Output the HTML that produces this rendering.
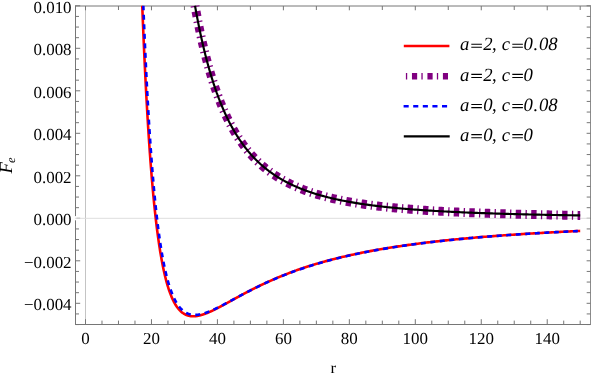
<!DOCTYPE html>
<html><head><meta charset="utf-8"><title>plot</title><style>html,body{margin:0;padding:0;background:#fff;overflow:hidden}body{width:591px;height:374px;position:relative;font-family:"Liberation Serif",serif}</style></head><body>
<svg width="591" height="374" viewBox="0 0 591 374" style="position:absolute;left:0;top:0;will-change:transform">
<rect width="591" height="374" fill="#fff"/>
<line x1="85.5" y1="6.0" x2="85.5" y2="324.5" stroke="#c4c4c4" stroke-width="1"/>
<path d="M75.5,5.5 V325.0 M75.0,324.5 H591.0" fill="none" stroke="#767676" stroke-width="1"/>
<path d="M75.0,6.0 H591.0" fill="none" stroke="#767676" stroke-width="1"/>
<path d="M590.5,5.5 V325.0" fill="none" stroke="#8c8c8c" stroke-width="1"/>
<path d="M85.50,324.5 v-5.3 M85.50,6.0 v4.3 M101.99,324.5 v-3.9 M118.48,324.5 v-3.9 M118.48,6.0 v4.0 M134.97,324.5 v-3.9 M151.46,324.5 v-5.3 M151.46,6.0 v4.3 M167.95,324.5 v-3.9 M184.44,324.5 v-3.9 M184.44,6.0 v4.0 M200.93,324.5 v-3.9 M217.42,324.5 v-5.3 M217.42,6.0 v4.3 M233.91,324.5 v-3.9 M250.40,324.5 v-3.9 M250.40,6.0 v4.0 M266.89,324.5 v-3.9 M283.38,324.5 v-5.3 M283.38,6.0 v4.3 M299.87,324.5 v-3.9 M316.36,324.5 v-3.9 M316.36,6.0 v4.0 M332.85,324.5 v-3.9 M349.34,324.5 v-5.3 M349.34,6.0 v4.3 M365.83,324.5 v-3.9 M382.32,324.5 v-3.9 M382.32,6.0 v4.0 M398.81,324.5 v-3.9 M415.30,324.5 v-5.3 M415.30,6.0 v4.3 M431.79,324.5 v-3.9 M448.28,324.5 v-3.9 M448.28,6.0 v4.0 M464.77,324.5 v-3.9 M481.26,324.5 v-5.3 M481.26,6.0 v4.3 M497.75,324.5 v-3.9 M514.24,324.5 v-3.9 M514.24,6.0 v4.0 M530.73,324.5 v-3.9 M547.22,324.5 v-5.3 M547.22,6.0 v4.3 M563.71,324.5 v-3.9 M580.20,324.5 v-3.9 M580.20,6.0 v4.0 M75.5,324.55 h3.5 M590.5,324.55 h-3.8 M75.5,313.93 h3.5 M590.5,313.93 h-3.8 M75.5,303.30 h4.7 M590.5,303.30 h-3.9 M75.5,292.68 h3.5 M590.5,292.68 h-3.8 M75.5,282.05 h3.5 M590.5,282.05 h-3.8 M75.5,271.43 h3.5 M590.5,271.43 h-3.8 M75.5,260.80 h4.7 M590.5,260.80 h-3.9 M75.5,250.18 h3.5 M590.5,250.18 h-3.8 M75.5,239.55 h3.5 M590.5,239.55 h-3.8 M75.5,228.93 h3.5 M590.5,228.93 h-3.8 M75.5,218.30 h4.7 M590.5,218.30 h-3.9 M75.5,207.68 h3.5 M590.5,207.68 h-3.8 M75.5,197.05 h3.5 M590.5,197.05 h-3.8 M75.5,186.43 h3.5 M590.5,186.43 h-3.8 M75.5,175.80 h4.7 M590.5,175.80 h-3.9 M75.5,165.18 h3.5 M590.5,165.18 h-3.8 M75.5,154.55 h3.5 M590.5,154.55 h-3.8 M75.5,143.93 h3.5 M590.5,143.93 h-3.8 M75.5,133.30 h4.7 M590.5,133.30 h-3.9 M75.5,122.68 h3.5 M590.5,122.68 h-3.8 M75.5,112.05 h3.5 M590.5,112.05 h-3.8 M75.5,101.43 h3.5 M590.5,101.43 h-3.8 M75.5,90.80 h4.7 M590.5,90.80 h-3.9 M75.5,80.18 h3.5 M590.5,80.18 h-3.8 M75.5,69.55 h3.5 M590.5,69.55 h-3.8 M75.5,58.93 h3.5 M590.5,58.93 h-3.8 M75.5,48.30 h4.7 M590.5,48.30 h-3.9 M75.5,37.68 h3.5 M590.5,37.68 h-3.8 M75.5,27.05 h3.5 M590.5,27.05 h-3.8 M75.5,16.43 h3.5 M590.5,16.43 h-3.8 M75.5,5.80 h4.7 M590.5,5.80 h-3.9" stroke="#767676" stroke-width="1" fill="none"/>
<rect x="74.5" y="216.10000000000002" width="2" height="4.2" fill="#fff"/>
<line x1="75.0" y1="218.3" x2="590.0" y2="218.3" stroke="#dedede" stroke-width="1"/>
<clipPath id="c"><rect x="75.5" y="5.2" width="515.0" height="319.3"/></clipPath>
<g clip-path="url(#c)" fill="none">
<path d="M142.25,5.80 L142.53,13.05 L142.81,20.13 L143.10,27.05 L143.38,33.80 L143.66,40.41 L143.94,46.86 L144.23,53.16 L144.51,59.32 L144.79,65.33 L145.07,71.21 L145.36,76.96 L145.64,82.57 L145.92,88.06 L146.20,93.42 L146.49,98.67 L146.77,103.79 L147.05,108.80 L147.33,113.69 L147.62,118.47 L147.90,123.15 L148.18,127.72 L148.46,132.19 L148.75,136.55 L149.03,140.82 L149.31,145.00 L149.59,149.08 L149.88,153.07 L150.16,156.97 L150.44,160.78 L150.72,164.51 L151.01,168.16 L151.29,171.72 L151.57,175.21 L151.85,178.61 L152.14,181.94 L152.42,185.20 L152.70,188.39 L152.98,191.50 L153.27,194.55 L153.55,197.52 L153.83,200.44 L154.11,203.28 L154.40,206.07 L154.68,208.79 L154.96,211.45 L155.24,214.06 L155.53,216.60 L155.81,219.09 L156.09,221.52 L156.37,223.90 L156.65,226.23 L156.94,228.51 L157.22,230.73 L157.50,232.91 L157.78,235.04 L158.07,237.12 L158.35,239.15 L158.63,241.14 L158.91,243.08 L159.20,244.98 L159.48,246.84 L159.76,248.66 L160.04,250.44 L160.33,252.17 L160.61,253.87 L160.89,255.53 L161.17,257.15 L161.46,258.74 L161.74,260.29 L162.02,261.81 L162.30,263.29 L162.59,264.74 L162.87,266.15 L163.15,267.54 L163.43,268.89 L163.72,270.21 L164.00,271.50 L164.28,272.76 L164.56,273.99 L164.85,275.20 L165.13,276.37 L165.41,277.52 L165.69,278.65 L165.98,279.74 L166.26,280.82 L166.54,281.86 L166.82,282.88 L167.11,283.88 L167.39,284.86 L167.67,285.81 L167.95,286.74 L168.24,287.64 L168.52,288.53 L168.80,289.39 L169.08,290.24 L169.37,291.06 L169.65,291.86 L169.93,292.65 L170.21,293.41 L170.49,294.16 L170.78,294.89 L171.06,295.60 L171.34,296.29 L171.62,296.96 L171.91,297.62 L172.19,298.26 L172.47,298.89 L172.75,299.50 L173.04,300.09 L173.32,300.67 L173.60,301.23 L173.88,301.78 L174.17,302.31 L174.45,302.83 L174.73,303.34 L175.01,303.83 L175.30,304.31 L175.58,304.78 L175.86,305.23 L176.14,305.67 L176.43,306.10 L176.71,306.51 L176.99,306.92 L177.27,307.31 L177.56,307.69 L177.84,308.06 L178.12,308.42 L178.40,308.77 L178.69,309.11 L178.97,309.44 L179.25,309.76 L179.53,310.07 L179.82,310.36 L180.10,310.65 L180.38,310.93 L180.66,311.20 L180.95,311.46 L181.23,311.72 L181.51,311.96 L181.79,312.20 L182.08,312.42 L182.36,312.64 L182.64,312.85 L182.92,313.06 L183.20,313.25 L183.49,313.44 L183.77,313.62 L184.05,313.80 L184.33,313.96 L184.62,314.12 L184.90,314.28 L185.18,314.42 L185.46,314.56 L185.75,314.70 L186.03,314.82 L186.31,314.94 L186.59,315.06 L186.88,315.17 L187.16,315.27 L187.44,315.37 L187.72,315.46 L188.01,315.55 L188.29,315.63 L188.57,315.70 L188.85,315.77 L189.14,315.84 L189.42,315.90 L189.70,315.96 L189.98,316.01 L190.27,316.05 L190.55,316.10 L190.83,316.13 L191.11,316.17 L191.40,316.19 L191.68,316.22 L191.96,316.24 L192.24,316.25 L192.53,316.27 L192.81,316.27 L193.09,316.28 L193.37,316.28 L193.66,316.28 L193.94,316.27 L194.22,316.26 L194.50,316.24 L194.79,316.23 L195.07,316.21 L195.35,316.18 L195.63,316.16 L195.92,316.13 L196.20,316.09 L196.48,316.06 L196.76,316.02 L197.04,315.97 L197.33,315.93 L197.61,315.88 L197.89,315.83 L198.17,315.78 L198.46,315.72 L198.74,315.66 L199.02,315.60 L199.30,315.54 L199.59,315.48 L199.87,315.41 L200.15,315.34 L200.43,315.26 L200.72,315.19 L201.00,315.11 L201.28,315.03 L201.56,314.95 L201.85,314.87 L202.13,314.79 L202.41,314.70 L202.69,314.61 L202.98,314.52 L203.26,314.43 L203.54,314.33 L203.82,314.24 L204.11,314.14 L204.39,314.04 L204.67,313.94 L204.95,313.83 L205.24,313.73 L205.52,313.62 L205.80,313.52 L206.08,313.41 L206.37,313.30 L206.65,313.19 L206.93,313.07 L207.21,312.96 L207.50,312.84 L207.78,312.73 L208.06,312.61 L208.34,312.49 L208.63,312.37 L208.91,312.25 L209.19,312.13 L209.47,312.00 L209.76,311.88 L210.04,311.75 L210.32,311.62 L210.60,311.50 L210.88,311.37 L211.17,311.24 L211.45,311.11 L211.73,310.97 L212.01,310.84 L212.30,310.71 L212.58,310.57 L212.86,310.44 L213.14,310.30 L213.43,310.17 L213.71,310.03 L213.99,309.89 L214.27,309.75 L214.56,309.61 L214.84,309.47 L215.12,309.33 L215.40,309.19 L215.69,309.05 L215.97,308.90 L216.25,308.76 L216.53,308.62 L216.82,308.47 L217.10,308.33 L217.38,308.18 L217.66,308.04 L217.95,307.89 L218.23,307.74 L218.51,307.59 L218.79,307.45 L219.08,307.30 L219.36,307.15 L219.64,307.00 L219.92,306.85 L220.21,306.70 L220.49,306.55 L220.77,306.40 L221.05,306.25 L221.34,306.10 L221.62,305.95 L221.90,305.79 L222.18,305.64 L222.47,305.49 L222.75,305.34 L223.03,305.18 L223.31,305.03 L223.60,304.88 L223.88,304.72 L224.16,304.57 L224.44,304.42 L224.72,304.26 L225.01,304.11 L225.29,303.95 L225.57,303.80 L225.85,303.64 L226.14,303.49 L226.42,303.33 L226.70,303.18 L226.98,303.02 L227.27,302.87 L227.55,302.71 L227.83,302.56 L228.11,302.40 L228.40,302.25 L228.68,302.09 L228.96,301.93 L229.24,301.78 L229.53,301.62 L229.81,301.47 L230.09,301.31 L230.37,301.15 L230.66,301.00 L230.94,300.84 L231.22,300.69 L231.50,300.53 L231.79,300.37 L232.07,300.22 L232.35,300.06 L232.63,299.91 L232.92,299.75 L233.20,299.59 L233.48,299.44 L233.76,299.28 L234.05,299.13 L234.33,298.97 L234.61,298.82 L234.89,298.66 L235.18,298.51 L235.46,298.35 L235.74,298.19 L236.02,298.04 L236.31,297.88 L236.59,297.73 L236.87,297.58 L237.15,297.42 L237.44,297.27 L237.72,297.11 L238.00,296.96 L238.28,296.80 L238.56,296.65 L238.85,296.50 L239.13,296.34 L239.41,296.19 L239.69,296.04 L239.98,295.88 L240.26,295.73 L240.54,295.58 L240.82,295.42 L241.11,295.27 L241.39,295.12 L241.67,294.97 L241.95,294.81 L242.24,294.66 L242.52,294.51 L242.80,294.36 L243.08,294.21 L243.37,294.06 L243.65,293.91 L243.93,293.76 L244.21,293.61 L244.50,293.46 L244.78,293.31 L245.06,293.16 L245.34,293.01 L245.63,292.86 L245.91,292.71 L246.19,292.56 L246.47,292.41 L246.76,292.26 L247.04,292.11 L247.32,291.96 L247.60,291.82 L247.89,291.67 L248.17,291.52 L248.45,291.38 L248.73,291.23 L249.02,291.08 L249.30,290.94 L249.58,290.79 L249.86,290.64 L250.15,290.50 L250.43,290.35 L250.71,290.21 L250.99,290.06 L251.28,289.92 L251.56,289.77 L251.84,289.63 L252.12,289.49 L252.40,289.34 L252.69,289.20 L252.97,289.06 L253.25,288.91 L253.53,288.77 L253.82,288.63 L254.10,288.49 L254.38,288.34 L254.66,288.20 L254.95,288.06 L255.23,287.92 L255.51,287.78 L255.79,287.64 L256.08,287.50 L256.36,287.36 L256.64,287.22 L256.92,287.08 L257.21,286.94 L257.49,286.80 L257.77,286.66 L258.05,286.53 L258.34,286.39 L258.62,286.25 L258.90,286.11 L259.18,285.98 L259.47,285.84 L259.75,285.70 L260.03,285.57 L260.31,285.43 L260.60,285.29 L260.88,285.16 L261.16,285.02 L261.44,284.89 L261.73,284.75 L262.01,284.62 L262.29,284.49 L262.57,284.35 L262.86,284.22 L263.14,284.09 L263.42,283.95 L263.70,283.82 L263.99,283.69 L264.27,283.56 L264.55,283.42 L264.83,283.29 L265.12,283.16 L265.40,283.03 L265.68,282.90 L265.96,282.77 L266.24,282.64 L266.53,282.51 L266.81,282.38 L267.09,282.25 L267.37,282.12 L267.66,281.99 L267.94,281.87 L268.22,281.74 L268.50,281.61 L268.79,281.48 L269.07,281.36 L269.35,281.23 L269.63,281.10 L269.92,280.98 L270.20,280.85 L270.48,280.73 L270.76,280.60 L271.05,280.48 L271.33,280.35 L271.61,280.23 L271.89,280.10 L272.18,279.98 L272.46,279.85 L272.74,279.73 L273.02,279.61 L273.31,279.49 L273.59,279.36 L273.87,279.24 L274.15,279.12 L274.44,279.00 L274.72,278.88 L275.00,278.76 L275.28,278.63 L275.57,278.51 L275.85,278.39 L276.13,278.27 L276.41,278.15 L276.70,278.04 L276.98,277.92 L277.26,277.80 L277.54,277.68 L277.83,277.56 L278.11,277.44 L278.39,277.33 L278.67,277.21 L278.95,277.09 L279.24,276.97 L279.52,276.86 L279.80,276.74 L280.08,276.63 L280.37,276.51 L280.65,276.39 L280.93,276.28 L281.21,276.16 L281.50,276.05 L281.78,275.94 L282.06,275.82 L282.34,275.71 L282.63,275.60 L282.91,275.48 L283.19,275.37 L283.88,275.10 L285.36,274.51 L286.85,273.93 L288.34,273.36 L289.82,272.80 L291.31,272.24 L292.79,271.69 L294.28,271.15 L295.77,270.62 L297.25,270.09 L298.74,269.57 L300.23,269.05 L301.71,268.55 L303.20,268.05 L304.69,267.55 L306.17,267.07 L307.66,266.59 L309.15,266.11 L310.63,265.64 L312.12,265.18 L313.61,264.72 L315.09,264.27 L316.58,263.83 L318.07,263.39 L319.55,262.96 L321.04,262.53 L322.53,262.11 L324.01,261.69 L325.50,261.28 L326.99,260.88 L328.47,260.48 L329.96,260.08 L331.45,259.69 L332.93,259.31 L334.42,258.93 L335.91,258.55 L337.39,258.18 L338.88,257.82 L340.37,257.46 L341.85,257.10 L343.34,256.75 L344.83,256.40 L346.31,256.06 L347.80,255.72 L349.28,255.39 L350.77,255.06 L352.26,254.73 L353.74,254.41 L355.23,254.09 L356.72,253.78 L358.20,253.47 L359.69,253.17 L361.18,252.86 L362.66,252.56 L364.15,252.27 L365.64,251.98 L367.12,251.69 L368.61,251.41 L370.10,251.13 L371.58,250.85 L373.07,250.58 L374.56,250.30 L376.04,250.04 L377.53,249.77 L379.02,249.51 L380.50,249.25 L381.99,249.00 L383.48,248.75 L384.96,248.50 L386.45,248.25 L387.94,248.01 L389.42,247.77 L390.91,247.53 L392.40,247.30 L393.88,247.07 L395.37,246.84 L396.86,246.61 L398.34,246.39 L399.83,246.16 L401.32,245.94 L402.80,245.73 L404.29,245.51 L405.77,245.30 L407.26,245.09 L408.75,244.89 L410.23,244.68 L411.72,244.48 L413.21,244.28 L414.69,244.08 L416.18,243.89 L417.67,243.69 L419.15,243.50 L420.64,243.31 L422.13,243.12 L423.61,242.94 L425.10,242.76 L426.59,242.58 L428.07,242.40 L429.56,242.22 L431.05,242.04 L432.53,241.87 L434.02,241.70 L435.51,241.53 L436.99,241.36 L438.48,241.19 L439.97,241.03 L441.45,240.87 L442.94,240.71 L444.43,240.55 L445.91,240.39 L447.40,240.23 L448.89,240.08 L450.37,239.92 L451.86,239.77 L453.35,239.62 L454.83,239.48 L456.32,239.33 L457.81,239.18 L459.29,239.04 L460.78,238.90 L462.26,238.76 L463.75,238.62 L465.24,238.48 L466.72,238.34 L468.21,238.21 L469.70,238.07 L471.18,237.94 L472.67,237.81 L474.16,237.68 L475.64,237.55 L477.13,237.42 L478.62,237.30 L480.10,237.17 L481.59,237.05 L483.08,236.92 L484.56,236.80 L486.05,236.68 L487.54,236.56 L489.02,236.45 L490.51,236.33 L492.00,236.21 L493.48,236.10 L494.97,235.98 L496.46,235.87 L497.94,235.76 L499.43,235.65 L500.92,235.54 L502.40,235.43 L503.89,235.32 L505.38,235.22 L506.86,235.11 L508.35,235.01 L509.84,234.90 L511.32,234.80 L512.81,234.70 L514.30,234.60 L515.78,234.50 L517.27,234.40 L518.75,234.30 L520.24,234.21 L521.73,234.11 L523.21,234.01 L524.70,233.92 L526.19,233.83 L527.67,233.73 L529.16,233.64 L530.65,233.55 L532.13,233.46 L533.62,233.37 L535.11,233.28 L536.59,233.19 L538.08,233.10 L539.57,233.02 L541.05,232.93 L542.54,232.85 L544.03,232.76 L545.51,232.68 L547.00,232.60 L548.49,232.51 L549.97,232.43 L551.46,232.35 L552.95,232.27 L554.43,232.19 L555.92,232.11 L557.41,232.04 L558.89,231.96 L560.38,231.88 L561.87,231.80 L563.35,231.73 L564.84,231.65 L566.33,231.58 L567.81,231.51 L569.30,231.43 L570.79,231.36 L572.27,231.29 L573.76,231.22 L575.24,231.15 L576.73,231.08 L578.22,231.01 L579.70,230.94 L580.20,230.92" stroke="#ff0000" stroke-width="2.6"/>
<path d="M195.01,5.80 L195.19,6.79 L195.36,7.78 L195.54,8.76 L195.72,9.73 L195.89,10.70 L196.07,11.66 L196.25,12.62 L196.42,13.57 L196.60,14.51 L196.78,15.45 L196.95,16.38 L197.13,17.31 L197.31,18.23 L197.49,19.14 L197.66,20.05 L197.84,20.96 L198.02,21.86 L198.19,22.75 L198.37,23.64 L198.55,24.52 L198.72,25.40 L198.90,26.27 L199.08,27.13 L199.25,28.00 L199.43,28.85 L199.61,29.70 L199.78,30.55 L199.96,31.39 L200.14,32.23 L200.31,33.06 L200.49,33.88 L200.67,34.70 L200.85,35.52 L201.02,36.33 L201.20,37.14 L201.38,37.94 L201.55,38.74 L201.73,39.53 L201.91,40.32 L202.08,41.10 L202.26,41.88 L202.44,42.65 L202.61,43.42 L202.79,44.19 L202.97,44.95 L203.14,45.70 L203.32,46.46 L203.50,47.20 L203.68,47.95 L203.85,48.68 L204.03,49.42 L204.21,50.15 L204.38,50.87 L204.56,51.60 L204.74,52.31 L204.91,53.03 L205.09,53.74 L205.27,54.44 L205.44,55.14 L205.62,55.84 L205.80,56.53 L205.97,57.22 L206.15,57.91 L206.33,58.59 L206.50,59.27 L206.68,59.94 L206.86,60.61 L207.04,61.28 L207.21,61.94 L207.39,62.60 L207.57,63.25 L207.74,63.91 L207.92,64.55 L208.10,65.20 L208.27,65.84 L208.45,66.47 L208.63,67.11 L208.80,67.74 L208.98,68.36 L209.16,68.99 L209.33,69.61 L209.51,70.22 L209.69,70.84 L209.87,71.44 L210.04,72.05 L210.22,72.65 L210.40,73.25 L210.57,73.85 L210.75,74.44 L210.93,75.03 L211.10,75.62 L211.28,76.20 L211.46,76.78 L211.63,77.36 L211.81,77.93 L211.99,78.50 L212.16,79.07 L212.34,79.63 L212.52,80.19 L212.70,80.75 L212.87,81.31 L213.05,81.86 L213.23,82.41 L213.40,82.95 L213.58,83.50 L213.76,84.04 L213.93,84.57 L214.11,85.11 L214.29,85.64 L214.46,86.17 L214.64,86.70 L214.82,87.22 L214.99,87.74 L215.17,88.26 L215.35,88.77 L215.52,89.28 L215.70,89.79 L215.88,90.30 L216.06,90.81 L216.23,91.31 L216.41,91.81 L216.59,92.30 L216.76,92.80 L216.94,93.29 L217.12,93.78 L217.29,94.26 L217.47,94.75 L217.65,95.23 L217.82,95.71 L218.00,96.18 L218.18,96.65 L218.35,97.13 L218.53,97.59 L218.71,98.06 L218.89,98.52 L219.06,98.99 L219.24,99.44 L219.42,99.90 L219.59,100.36 L219.77,100.81 L219.95,101.26 L220.12,101.71 L220.30,102.15 L220.48,102.59 L220.65,103.03 L220.83,103.47 L221.01,103.91 L221.18,104.34 L221.36,104.77 L221.54,105.20 L221.71,105.63 L221.89,106.06 L222.07,106.48 L222.25,106.90 L222.42,107.32 L222.60,107.74 L222.78,108.15 L222.95,108.56 L223.13,108.97 L223.31,109.38 L223.48,109.79 L223.66,110.19 L223.84,110.60 L224.01,111.00 L224.19,111.39 L224.37,111.79 L224.54,112.18 L224.72,112.58 L224.90,112.97 L225.08,113.36 L225.25,113.74 L225.43,114.13 L225.61,114.51 L225.78,114.89 L225.96,115.27 L226.14,115.65 L226.31,116.02 L226.49,116.40 L226.67,116.77 L226.84,117.14 L227.02,117.51 L227.20,117.87 L227.37,118.24 L227.55,118.60 L227.73,118.96 L227.90,119.32 L228.08,119.68 L228.26,120.04 L228.44,120.39 L228.61,120.74 L228.79,121.09 L228.97,121.44 L229.14,121.79 L229.32,122.13 L229.50,122.48 L229.67,122.82 L229.85,123.16 L230.03,123.50 L230.20,123.84 L230.38,124.17 L230.56,124.51 L230.73,124.84 L230.91,125.17 L231.09,125.50 L231.27,125.83 L231.44,126.16 L231.62,126.48 L231.80,126.81 L231.97,127.13 L232.15,127.45 L232.33,127.77 L232.50,128.08 L232.68,128.40 L232.86,128.71 L233.03,129.03 L233.21,129.34 L233.39,129.65 L233.56,129.96 L233.74,130.26 L233.92,130.57 L234.10,130.87 L234.27,131.18 L234.45,131.48 L234.63,131.78 L234.80,132.08 L234.98,132.37 L235.16,132.67 L235.33,132.97 L235.51,133.26 L235.69,133.55 L235.86,133.84 L236.04,134.13 L236.22,134.42 L236.39,134.70 L236.57,134.99 L236.75,135.27 L236.92,135.56 L237.10,135.84 L237.28,136.12 L237.46,136.40 L237.63,136.67 L237.81,136.95 L237.99,137.23 L238.16,137.50 L238.34,137.77 L238.52,138.04 L238.69,138.31 L238.87,138.58 L239.05,138.85 L239.22,139.12 L239.40,139.38 L239.58,139.65 L239.75,139.91 L239.93,140.17 L240.11,140.43 L240.29,140.69 L240.46,140.95 L240.64,141.21 L240.82,141.46 L240.99,141.72 L241.17,141.97 L241.35,142.22 L241.52,142.47 L241.70,142.72 L241.88,142.97 L242.05,143.22 L242.23,143.47 L242.41,143.72 L242.58,143.96 L242.76,144.20 L242.94,144.45 L243.11,144.69 L243.29,144.93 L243.47,145.17 L243.65,145.41 L243.82,145.64 L244.00,145.88 L244.18,146.12 L244.35,146.35 L244.53,146.58 L244.71,146.82 L244.88,147.05 L245.06,147.28 L245.24,147.51 L245.41,147.74 L245.59,147.96 L245.77,148.19 L245.94,148.41 L246.12,148.64 L246.30,148.86 L246.48,149.08 L246.65,149.31 L246.83,149.53 L247.01,149.75 L247.18,149.96 L247.36,150.18 L247.54,150.40 L247.71,150.62 L247.89,150.83 L248.07,151.04 L248.24,151.26 L248.42,151.47 L248.60,151.68 L248.77,151.89 L248.95,152.10 L249.13,152.31 L249.31,152.52 L249.48,152.72 L249.66,152.93 L249.84,153.14 L250.01,153.34 L250.19,153.54 L250.37,153.75 L250.54,153.95 L250.72,154.15 L250.90,154.35 L251.07,154.55 L251.25,154.75 L251.43,154.94 L251.60,155.14 L251.78,155.34 L251.96,155.53 L252.13,155.73 L252.31,155.92 L252.49,156.11 L252.67,156.30 L252.84,156.50 L253.02,156.69 L253.20,156.88 L253.37,157.06 L253.55,157.25 L253.73,157.44 L253.90,157.63 L254.08,157.81 L254.26,158.00 L254.43,158.18 L254.61,158.36 L254.79,158.55 L254.96,158.73 L255.14,158.91 L255.32,159.09 L255.50,159.27 L255.67,159.45 L255.85,159.63 L256.03,159.80 L256.20,159.98 L256.38,160.16 L256.56,160.33 L256.73,160.51 L256.91,160.68 L257.09,160.85 L257.26,161.03 L257.44,161.20 L257.62,161.37 L257.79,161.54 L257.97,161.71 L258.15,161.88 L258.32,162.05 L258.50,162.22 L258.68,162.38 L258.86,162.55 L259.03,162.71 L259.21,162.88 L259.39,163.04 L259.56,163.21 L259.74,163.37 L259.92,163.53 L260.09,163.70 L260.27,163.86 L260.45,164.02 L260.62,164.18 L260.80,164.34 L260.98,164.49 L261.15,164.65 L261.33,164.81 L261.51,164.97 L261.69,165.12 L261.86,165.28 L262.04,165.43 L262.22,165.59 L262.39,165.74 L262.57,165.89 L262.75,166.05 L262.92,166.20 L263.10,166.35 L263.28,166.50 L263.45,166.65 L263.63,166.80 L263.81,166.95 L263.98,167.10 L264.16,167.25 L264.34,167.39 L264.51,167.54 L264.69,167.69 L264.87,167.83 L265.05,167.98 L265.22,168.12 L265.40,168.27 L265.58,168.41 L265.75,168.55 L265.93,168.69 L266.11,168.84 L266.28,168.98 L266.46,169.12 L266.64,169.26 L266.81,169.40 L266.99,169.54 L267.17,169.67 L267.34,169.81 L267.52,169.95 L267.70,170.09 L267.88,170.22 L268.05,170.36 L268.23,170.49 L268.41,170.63 L268.58,170.76 L268.76,170.90 L268.94,171.03 L269.11,171.16 L269.29,171.29 L269.47,171.43 L269.64,171.56 L269.82,171.69 L270.00,171.82 L270.17,171.95 L270.35,172.08 L270.53,172.21 L270.71,172.34 L270.88,172.46 L271.06,172.59 L271.24,172.72 L271.41,172.84 L271.59,172.97 L271.77,173.10 L271.94,173.22 L272.12,173.35 L272.30,173.47 L272.47,173.59 L272.65,173.72 L272.83,173.84 L273.00,173.96 L273.18,174.08 L273.36,174.20 L273.53,174.33 L273.71,174.45 L273.89,174.57 L274.07,174.69 L274.24,174.80 L274.42,174.92 L274.60,175.04 L274.77,175.16 L274.95,175.28 L275.13,175.39 L275.30,175.51 L275.48,175.63 L275.66,175.74 L275.83,175.86 L276.01,175.97 L276.19,176.09 L276.36,176.20 L276.54,176.31 L276.72,176.43 L276.90,176.54 L277.07,176.65 L277.25,176.76 L277.43,176.88 L277.60,176.99 L277.78,177.10 L277.96,177.21 L278.13,177.32 L278.31,177.43 L278.49,177.54 L278.66,177.65 L278.84,177.75 L279.02,177.86 L279.19,177.97 L279.37,178.08 L279.55,178.18 L279.72,178.29 L279.90,178.40 L280.08,178.50 L280.26,178.61 L280.43,178.71 L280.61,178.82 L280.79,178.92 L280.96,179.03 L281.14,179.13 L281.32,179.23 L281.49,179.34 L281.67,179.44 L281.85,179.54 L282.02,179.64 L282.20,179.74 L282.38,179.84 L282.55,179.94 L282.73,180.04 L282.91,180.14 L283.09,180.24 L283.26,180.34 L283.88,180.68 L285.36,181.49 L286.85,182.28 L288.34,183.05 L289.82,183.79 L291.31,184.51 L292.79,185.21 L294.28,185.89 L295.77,186.56 L297.25,187.20 L298.74,187.83 L300.23,188.44 L301.71,189.03 L303.20,189.61 L304.69,190.17 L306.17,190.72 L307.66,191.25 L309.15,191.77 L310.63,192.28 L312.12,192.77 L313.61,193.25 L315.09,193.72 L316.58,194.18 L318.07,194.62 L319.55,195.06 L321.04,195.48 L322.53,195.89 L324.01,196.30 L325.50,196.69 L326.99,197.07 L328.47,197.45 L329.96,197.81 L331.45,198.17 L332.93,198.52 L334.42,198.86 L335.91,199.19 L337.39,199.52 L338.88,199.83 L340.37,200.14 L341.85,200.45 L343.34,200.74 L344.83,201.03 L346.31,201.31 L347.80,201.59 L349.28,201.86 L350.77,202.12 L352.26,202.38 L353.74,202.64 L355.23,202.88 L356.72,203.13 L358.20,203.36 L359.69,203.60 L361.18,203.82 L362.66,204.04 L364.15,204.26 L365.64,204.48 L367.12,204.68 L368.61,204.89 L370.10,205.09 L371.58,205.28 L373.07,205.48 L374.56,205.66 L376.04,205.85 L377.53,206.03 L379.02,206.21 L380.50,206.38 L381.99,206.55 L383.48,206.72 L384.96,206.88 L386.45,207.04 L387.94,207.20 L389.42,207.35 L390.91,207.50 L392.40,207.65 L393.88,207.80 L395.37,207.94 L396.86,208.08 L398.34,208.22 L399.83,208.35 L401.32,208.49 L402.80,208.62 L404.29,208.74 L405.77,208.87 L407.26,208.99 L408.75,209.11 L410.23,209.23 L411.72,209.35 L413.21,209.46 L414.69,209.57 L416.18,209.68 L417.67,209.79 L419.15,209.90 L420.64,210.00 L422.13,210.11 L423.61,210.21 L425.10,210.31 L426.59,210.40 L428.07,210.50 L429.56,210.60 L431.05,210.69 L432.53,210.78 L434.02,210.87 L435.51,210.96 L436.99,211.04 L438.48,211.13 L439.97,211.21 L441.45,211.29 L442.94,211.38 L444.43,211.46 L445.91,211.53 L447.40,211.61 L448.89,211.69 L450.37,211.76 L451.86,211.83 L453.35,211.91 L454.83,211.98 L456.32,212.05 L457.81,212.12 L459.29,212.18 L460.78,212.25 L462.26,212.32 L463.75,212.38 L465.24,212.45 L466.72,212.51 L468.21,212.57 L469.70,212.63 L471.18,212.69 L472.67,212.75 L474.16,212.81 L475.64,212.87 L477.13,212.92 L478.62,212.98 L480.10,213.03 L481.59,213.09 L483.08,213.14 L484.56,213.19 L486.05,213.24 L487.54,213.29 L489.02,213.34 L490.51,213.39 L492.00,213.44 L493.48,213.49 L494.97,213.54 L496.46,213.58 L497.94,213.63 L499.43,213.67 L500.92,213.72 L502.40,213.76 L503.89,213.81 L505.38,213.85 L506.86,213.89 L508.35,213.93 L509.84,213.97 L511.32,214.01 L512.81,214.05 L514.30,214.09 L515.78,214.13 L517.27,214.17 L518.75,214.21 L520.24,214.25 L521.73,214.28 L523.21,214.32 L524.70,214.35 L526.19,214.39 L527.67,214.42 L529.16,214.46 L530.65,214.49 L532.13,214.53 L533.62,214.56 L535.11,214.59 L536.59,214.62 L538.08,214.65 L539.57,214.69 L541.05,214.72 L542.54,214.75 L544.03,214.78 L545.51,214.81 L547.00,214.84 L548.49,214.87 L549.97,214.89 L551.46,214.92 L552.95,214.95 L554.43,214.98 L555.92,215.01 L557.41,215.03 L558.89,215.06 L560.38,215.08 L561.87,215.11 L563.35,215.14 L564.84,215.16 L566.33,215.19 L567.81,215.21 L569.30,215.24 L570.79,215.26 L572.27,215.28 L573.76,215.31 L575.24,215.33 L576.73,215.35 L578.22,215.38 L579.70,215.40 L580.20,215.40" stroke="#800080" stroke-width="9" stroke-dasharray="1.3 4.389 5.4 4.389"/>
<path d="M143.34,5.80 L143.62,12.93 L143.90,19.90 L144.18,26.70 L144.46,33.36 L144.74,39.86 L145.02,46.21 L145.30,52.42 L145.58,58.48 L145.86,64.41 L146.14,70.21 L146.42,75.87 L146.70,81.41 L146.98,86.82 L147.26,92.11 L147.54,97.28 L147.82,102.34 L148.10,107.28 L148.38,112.11 L148.66,116.84 L148.94,121.46 L149.22,125.97 L149.50,130.39 L149.79,134.71 L150.07,138.93 L150.35,143.06 L150.63,147.09 L150.91,151.04 L151.19,154.90 L151.47,158.68 L151.75,162.37 L152.03,165.98 L152.31,169.51 L152.59,172.96 L152.87,176.34 L153.15,179.65 L153.43,182.88 L153.71,186.04 L153.99,189.13 L154.27,192.15 L154.55,195.11 L154.83,198.00 L155.11,200.83 L155.39,203.59 L155.67,206.30 L155.95,208.95 L156.23,211.54 L156.51,214.07 L156.79,216.55 L157.07,218.97 L157.35,221.34 L157.63,223.66 L157.91,225.92 L158.19,228.14 L158.47,230.31 L158.75,232.43 L159.03,234.51 L159.31,236.54 L159.59,238.52 L159.87,240.46 L160.16,242.36 L160.44,244.22 L160.72,246.03 L161.00,247.81 L161.28,249.55 L161.56,251.25 L161.84,252.91 L162.12,254.53 L162.40,256.12 L162.68,257.67 L162.96,259.19 L163.24,260.68 L163.52,262.13 L163.80,263.55 L164.08,264.94 L164.36,266.29 L164.64,267.62 L164.92,268.92 L165.20,270.19 L165.48,271.43 L165.76,272.64 L166.04,273.82 L166.32,274.98 L166.60,276.11 L166.88,277.21 L167.16,278.29 L167.44,279.35 L167.72,280.38 L168.00,281.39 L168.28,282.37 L168.56,283.33 L168.84,284.27 L169.12,285.19 L169.40,286.08 L169.68,286.96 L169.96,287.81 L170.24,288.65 L170.52,289.46 L170.81,290.26 L171.09,291.03 L171.37,291.79 L171.65,292.53 L171.93,293.25 L172.21,293.95 L172.49,294.64 L172.77,295.31 L173.05,295.96 L173.33,296.60 L173.61,297.22 L173.89,297.83 L174.17,298.42 L174.45,298.99 L174.73,299.55 L175.01,300.10 L175.29,300.63 L175.57,301.15 L175.85,301.66 L176.13,302.15 L176.41,302.63 L176.69,303.09 L176.97,303.55 L177.25,303.99 L177.53,304.42 L177.81,304.84 L178.09,305.24 L178.37,305.64 L178.65,306.02 L178.93,306.39 L179.21,306.75 L179.49,307.11 L179.77,307.45 L180.05,307.78 L180.33,308.10 L180.61,308.41 L180.89,308.71 L181.18,309.00 L181.46,309.29 L181.74,309.56 L182.02,309.83 L182.30,310.09 L182.58,310.33 L182.86,310.57 L183.14,310.81 L183.42,311.03 L183.70,311.25 L183.98,311.46 L184.26,311.66 L184.54,311.85 L184.82,312.04 L185.10,312.22 L185.38,312.39 L185.66,312.56 L185.94,312.71 L186.22,312.87 L186.50,313.01 L186.78,313.15 L187.06,313.29 L187.34,313.41 L187.62,313.53 L187.90,313.65 L188.18,313.76 L188.46,313.86 L188.74,313.96 L189.02,314.06 L189.30,314.14 L189.58,314.23 L189.86,314.30 L190.14,314.38 L190.42,314.44 L190.70,314.51 L190.98,314.56 L191.26,314.62 L191.55,314.67 L191.83,314.71 L192.11,314.75 L192.39,314.79 L192.67,314.82 L192.95,314.85 L193.23,314.87 L193.51,314.89 L193.79,314.90 L194.07,314.91 L194.35,314.92 L194.63,314.93 L194.91,314.93 L195.19,314.92 L195.47,314.92 L195.75,314.91 L196.03,314.90 L196.31,314.88 L196.59,314.86 L196.87,314.84 L197.15,314.81 L197.43,314.78 L197.71,314.75 L197.99,314.72 L198.27,314.68 L198.55,314.64 L198.83,314.60 L199.11,314.55 L199.39,314.50 L199.67,314.45 L199.95,314.40 L200.23,314.34 L200.51,314.29 L200.79,314.22 L201.07,314.16 L201.35,314.10 L201.63,314.03 L201.92,313.96 L202.20,313.89 L202.48,313.82 L202.76,313.74 L203.04,313.66 L203.32,313.58 L203.60,313.50 L203.88,313.42 L204.16,313.33 L204.44,313.25 L204.72,313.16 L205.00,313.07 L205.28,312.97 L205.56,312.88 L205.84,312.78 L206.12,312.69 L206.40,312.59 L206.68,312.49 L206.96,312.39 L207.24,312.28 L207.52,312.18 L207.80,312.07 L208.08,311.97 L208.36,311.86 L208.64,311.75 L208.92,311.64 L209.20,311.52 L209.48,311.41 L209.76,311.30 L210.04,311.18 L210.32,311.06 L210.60,310.95 L210.88,310.83 L211.16,310.71 L211.44,310.58 L211.72,310.46 L212.00,310.34 L212.29,310.21 L212.57,310.09 L212.85,309.96 L213.13,309.84 L213.41,309.71 L213.69,309.58 L213.97,309.45 L214.25,309.32 L214.53,309.19 L214.81,309.06 L215.09,308.93 L215.37,308.79 L215.65,308.66 L215.93,308.52 L216.21,308.39 L216.49,308.25 L216.77,308.12 L217.05,307.98 L217.33,307.84 L217.61,307.70 L217.89,307.56 L218.17,307.42 L218.45,307.28 L218.73,307.14 L219.01,307.00 L219.29,306.86 L219.57,306.72 L219.85,306.58 L220.13,306.43 L220.41,306.29 L220.69,306.15 L220.97,306.00 L221.25,305.86 L221.53,305.71 L221.81,305.57 L222.09,305.42 L222.37,305.27 L222.66,305.13 L222.94,304.98 L223.22,304.83 L223.50,304.69 L223.78,304.54 L224.06,304.39 L224.34,304.24 L224.62,304.10 L224.90,303.95 L225.18,303.80 L225.46,303.65 L225.74,303.50 L226.02,303.35 L226.30,303.20 L226.58,303.05 L226.86,302.90 L227.14,302.75 L227.42,302.60 L227.70,302.45 L227.98,302.30 L228.26,302.15 L228.54,302.00 L228.82,301.85 L229.10,301.70 L229.38,301.55 L229.66,301.40 L229.94,301.25 L230.22,301.09 L230.50,300.94 L230.78,300.79 L231.06,300.64 L231.34,300.49 L231.62,300.34 L231.90,300.19 L232.18,300.04 L232.46,299.88 L232.74,299.73 L233.02,299.58 L233.31,299.43 L233.59,299.28 L233.87,299.13 L234.15,298.98 L234.43,298.82 L234.71,298.67 L234.99,298.52 L235.27,298.37 L235.55,298.22 L235.83,298.07 L236.11,297.92 L236.39,297.77 L236.67,297.62 L236.95,297.47 L237.23,297.31 L237.51,297.16 L237.79,297.01 L238.07,296.86 L238.35,296.71 L238.63,296.56 L238.91,296.41 L239.19,296.26 L239.47,296.11 L239.75,295.96 L240.03,295.81 L240.31,295.66 L240.59,295.51 L240.87,295.37 L241.15,295.22 L241.43,295.07 L241.71,294.92 L241.99,294.77 L242.27,294.62 L242.55,294.47 L242.83,294.32 L243.11,294.18 L243.39,294.03 L243.68,293.88 L243.96,293.73 L244.24,293.59 L244.52,293.44 L244.80,293.29 L245.08,293.15 L245.36,293.00 L245.64,292.85 L245.92,292.71 L246.20,292.56 L246.48,292.42 L246.76,292.27 L247.04,292.12 L247.32,291.98 L247.60,291.83 L247.88,291.69 L248.16,291.54 L248.44,291.40 L248.72,291.26 L249.00,291.11 L249.28,290.97 L249.56,290.83 L249.84,290.68 L250.12,290.54 L250.40,290.40 L250.68,290.25 L250.96,290.11 L251.24,289.97 L251.52,289.83 L251.80,289.69 L252.08,289.54 L252.36,289.40 L252.64,289.26 L252.92,289.12 L253.20,288.98 L253.48,288.84 L253.76,288.70 L254.05,288.56 L254.33,288.42 L254.61,288.28 L254.89,288.14 L255.17,288.00 L255.45,287.87 L255.73,287.73 L256.01,287.59 L256.29,287.45 L256.57,287.32 L256.85,287.18 L257.13,287.04 L257.41,286.90 L257.69,286.77 L257.97,286.63 L258.25,286.50 L258.53,286.36 L258.81,286.22 L259.09,286.09 L259.37,285.95 L259.65,285.82 L259.93,285.69 L260.21,285.55 L260.49,285.42 L260.77,285.28 L261.05,285.15 L261.33,285.02 L261.61,284.89 L261.89,284.75 L262.17,284.62 L262.45,284.49 L262.73,284.36 L263.01,284.23 L263.29,284.09 L263.57,283.96 L263.85,283.83 L264.13,283.70 L264.42,283.57 L264.70,283.44 L264.98,283.31 L265.26,283.18 L265.54,283.06 L265.82,282.93 L266.10,282.80 L266.38,282.67 L266.66,282.54 L266.94,282.42 L267.22,282.29 L267.50,282.16 L267.78,282.03 L268.06,281.91 L268.34,281.78 L268.62,281.66 L268.90,281.53 L269.18,281.41 L269.46,281.28 L269.74,281.16 L270.02,281.03 L270.30,280.91 L270.58,280.78 L270.86,280.66 L271.14,280.54 L271.42,280.41 L271.70,280.29 L271.98,280.17 L272.26,280.05 L272.54,279.92 L272.82,279.80 L273.10,279.68 L273.38,279.56 L273.66,279.44 L273.94,279.32 L274.22,279.20 L274.50,279.08 L274.79,278.96 L275.07,278.84 L275.35,278.72 L275.63,278.60 L275.91,278.48 L276.19,278.36 L276.47,278.24 L276.75,278.13 L277.03,278.01 L277.31,277.89 L277.59,277.77 L277.87,277.66 L278.15,277.54 L278.43,277.42 L278.71,277.31 L278.99,277.19 L279.27,277.08 L279.55,276.96 L279.83,276.85 L280.11,276.73 L280.39,276.62 L280.67,276.50 L280.95,276.39 L281.23,276.28 L281.51,276.16 L281.79,276.05 L282.07,275.94 L282.35,275.83 L282.63,275.71 L282.91,275.60 L283.19,275.49 L283.88,275.22 L285.36,274.63 L286.85,274.06 L288.34,273.49 L289.82,272.93 L291.31,272.37 L292.79,271.82 L294.28,271.28 L295.77,270.75 L297.25,270.22 L298.74,269.70 L300.23,269.19 L301.71,268.68 L303.20,268.18 L304.69,267.69 L306.17,267.20 L307.66,266.72 L309.15,266.24 L310.63,265.78 L312.12,265.31 L313.61,264.86 L315.09,264.41 L316.58,263.96 L318.07,263.52 L319.55,263.09 L321.04,262.66 L322.53,262.24 L324.01,261.83 L325.50,261.42 L326.99,261.01 L328.47,260.61 L329.96,260.21 L331.45,259.82 L332.93,259.44 L334.42,259.06 L335.91,258.68 L337.39,258.31 L338.88,257.95 L340.37,257.59 L341.85,257.23 L343.34,256.88 L344.83,256.53 L346.31,256.19 L347.80,255.85 L349.28,255.51 L350.77,255.18 L352.26,254.86 L353.74,254.53 L355.23,254.22 L356.72,253.90 L358.20,253.59 L359.69,253.29 L361.18,252.98 L362.66,252.68 L364.15,252.39 L365.64,252.10 L367.12,251.81 L368.61,251.52 L370.10,251.24 L371.58,250.96 L373.07,250.69 L374.56,250.42 L376.04,250.15 L377.53,249.89 L379.02,249.62 L380.50,249.36 L381.99,249.11 L383.48,248.86 L384.96,248.61 L386.45,248.36 L387.94,248.12 L389.42,247.88 L390.91,247.64 L392.40,247.40 L393.88,247.17 L395.37,246.94 L396.86,246.71 L398.34,246.49 L399.83,246.27 L401.32,246.05 L402.80,245.83 L404.29,245.61 L405.77,245.40 L407.26,245.19 L408.75,244.98 L410.23,244.78 L411.72,244.58 L413.21,244.38 L414.69,244.18 L416.18,243.98 L417.67,243.79 L419.15,243.60 L420.64,243.41 L422.13,243.22 L423.61,243.03 L425.10,242.85 L426.59,242.67 L428.07,242.49 L429.56,242.31 L431.05,242.13 L432.53,241.96 L434.02,241.79 L435.51,241.62 L436.99,241.45 L438.48,241.28 L439.97,241.12 L441.45,240.95 L442.94,240.79 L444.43,240.63 L445.91,240.47 L447.40,240.32 L448.89,240.16 L450.37,240.01 L451.86,239.86 L453.35,239.71 L454.83,239.56 L456.32,239.41 L457.81,239.26 L459.29,239.12 L460.78,238.98 L462.26,238.84 L463.75,238.70 L465.24,238.56 L466.72,238.42 L468.21,238.28 L469.70,238.15 L471.18,238.02 L472.67,237.88 L474.16,237.75 L475.64,237.62 L477.13,237.50 L478.62,237.37 L480.10,237.24 L481.59,237.12 L483.08,237.00 L484.56,236.87 L486.05,236.75 L487.54,236.63 L489.02,236.52 L490.51,236.40 L492.00,236.28 L493.48,236.17 L494.97,236.05 L496.46,235.94 L497.94,235.83 L499.43,235.72 L500.92,235.61 L502.40,235.50 L503.89,235.39 L505.38,235.28 L506.86,235.18 L508.35,235.07 L509.84,234.97 L511.32,234.87 L512.81,234.76 L514.30,234.66 L515.78,234.56 L517.27,234.46 L518.75,234.37 L520.24,234.27 L521.73,234.17 L523.21,234.08 L524.70,233.98 L526.19,233.89 L527.67,233.79 L529.16,233.70 L530.65,233.61 L532.13,233.52 L533.62,233.43 L535.11,233.34 L536.59,233.25 L538.08,233.16 L539.57,233.08 L541.05,232.99 L542.54,232.90 L544.03,232.82 L545.51,232.74 L547.00,232.65 L548.49,232.57 L549.97,232.49 L551.46,232.41 L552.95,232.33 L554.43,232.25 L555.92,232.17 L557.41,232.09 L558.89,232.01 L560.38,231.93 L561.87,231.86 L563.35,231.78 L564.84,231.71 L566.33,231.63 L567.81,231.56 L569.30,231.49 L570.79,231.41 L572.27,231.34 L573.76,231.27 L575.24,231.20 L576.73,231.13 L578.22,231.06 L579.70,230.99 L580.20,230.97" stroke="#0000ff" stroke-width="2.6" stroke-dasharray="5 4.538" stroke-dashoffset="0.55"/>
<path d="M195.01,5.80 L195.19,6.79 L195.36,7.78 L195.54,8.76 L195.72,9.73 L195.89,10.70 L196.07,11.66 L196.25,12.62 L196.42,13.57 L196.60,14.51 L196.78,15.45 L196.95,16.38 L197.13,17.31 L197.31,18.23 L197.49,19.14 L197.66,20.05 L197.84,20.96 L198.02,21.86 L198.19,22.75 L198.37,23.64 L198.55,24.52 L198.72,25.40 L198.90,26.27 L199.08,27.13 L199.25,28.00 L199.43,28.85 L199.61,29.70 L199.78,30.55 L199.96,31.39 L200.14,32.23 L200.31,33.06 L200.49,33.88 L200.67,34.70 L200.85,35.52 L201.02,36.33 L201.20,37.14 L201.38,37.94 L201.55,38.74 L201.73,39.53 L201.91,40.32 L202.08,41.10 L202.26,41.88 L202.44,42.65 L202.61,43.42 L202.79,44.19 L202.97,44.95 L203.14,45.70 L203.32,46.46 L203.50,47.20 L203.68,47.95 L203.85,48.68 L204.03,49.42 L204.21,50.15 L204.38,50.87 L204.56,51.60 L204.74,52.31 L204.91,53.03 L205.09,53.74 L205.27,54.44 L205.44,55.14 L205.62,55.84 L205.80,56.53 L205.97,57.22 L206.15,57.91 L206.33,58.59 L206.50,59.27 L206.68,59.94 L206.86,60.61 L207.04,61.28 L207.21,61.94 L207.39,62.60 L207.57,63.25 L207.74,63.91 L207.92,64.55 L208.10,65.20 L208.27,65.84 L208.45,66.47 L208.63,67.11 L208.80,67.74 L208.98,68.36 L209.16,68.99 L209.33,69.61 L209.51,70.22 L209.69,70.84 L209.87,71.44 L210.04,72.05 L210.22,72.65 L210.40,73.25 L210.57,73.85 L210.75,74.44 L210.93,75.03 L211.10,75.62 L211.28,76.20 L211.46,76.78 L211.63,77.36 L211.81,77.93 L211.99,78.50 L212.16,79.07 L212.34,79.63 L212.52,80.19 L212.70,80.75 L212.87,81.31 L213.05,81.86 L213.23,82.41 L213.40,82.95 L213.58,83.50 L213.76,84.04 L213.93,84.57 L214.11,85.11 L214.29,85.64 L214.46,86.17 L214.64,86.70 L214.82,87.22 L214.99,87.74 L215.17,88.26 L215.35,88.77 L215.52,89.28 L215.70,89.79 L215.88,90.30 L216.06,90.81 L216.23,91.31 L216.41,91.81 L216.59,92.30 L216.76,92.80 L216.94,93.29 L217.12,93.78 L217.29,94.26 L217.47,94.75 L217.65,95.23 L217.82,95.71 L218.00,96.18 L218.18,96.65 L218.35,97.13 L218.53,97.59 L218.71,98.06 L218.89,98.52 L219.06,98.99 L219.24,99.44 L219.42,99.90 L219.59,100.36 L219.77,100.81 L219.95,101.26 L220.12,101.71 L220.30,102.15 L220.48,102.59 L220.65,103.03 L220.83,103.47 L221.01,103.91 L221.18,104.34 L221.36,104.77 L221.54,105.20 L221.71,105.63 L221.89,106.06 L222.07,106.48 L222.25,106.90 L222.42,107.32 L222.60,107.74 L222.78,108.15 L222.95,108.56 L223.13,108.97 L223.31,109.38 L223.48,109.79 L223.66,110.19 L223.84,110.60 L224.01,111.00 L224.19,111.39 L224.37,111.79 L224.54,112.18 L224.72,112.58 L224.90,112.97 L225.08,113.36 L225.25,113.74 L225.43,114.13 L225.61,114.51 L225.78,114.89 L225.96,115.27 L226.14,115.65 L226.31,116.02 L226.49,116.40 L226.67,116.77 L226.84,117.14 L227.02,117.51 L227.20,117.87 L227.37,118.24 L227.55,118.60 L227.73,118.96 L227.90,119.32 L228.08,119.68 L228.26,120.04 L228.44,120.39 L228.61,120.74 L228.79,121.09 L228.97,121.44 L229.14,121.79 L229.32,122.13 L229.50,122.48 L229.67,122.82 L229.85,123.16 L230.03,123.50 L230.20,123.84 L230.38,124.17 L230.56,124.51 L230.73,124.84 L230.91,125.17 L231.09,125.50 L231.27,125.83 L231.44,126.16 L231.62,126.48 L231.80,126.81 L231.97,127.13 L232.15,127.45 L232.33,127.77 L232.50,128.08 L232.68,128.40 L232.86,128.71 L233.03,129.03 L233.21,129.34 L233.39,129.65 L233.56,129.96 L233.74,130.26 L233.92,130.57 L234.10,130.87 L234.27,131.18 L234.45,131.48 L234.63,131.78 L234.80,132.08 L234.98,132.37 L235.16,132.67 L235.33,132.97 L235.51,133.26 L235.69,133.55 L235.86,133.84 L236.04,134.13 L236.22,134.42 L236.39,134.70 L236.57,134.99 L236.75,135.27 L236.92,135.56 L237.10,135.84 L237.28,136.12 L237.46,136.40 L237.63,136.67 L237.81,136.95 L237.99,137.23 L238.16,137.50 L238.34,137.77 L238.52,138.04 L238.69,138.31 L238.87,138.58 L239.05,138.85 L239.22,139.12 L239.40,139.38 L239.58,139.65 L239.75,139.91 L239.93,140.17 L240.11,140.43 L240.29,140.69 L240.46,140.95 L240.64,141.21 L240.82,141.46 L240.99,141.72 L241.17,141.97 L241.35,142.22 L241.52,142.47 L241.70,142.72 L241.88,142.97 L242.05,143.22 L242.23,143.47 L242.41,143.72 L242.58,143.96 L242.76,144.20 L242.94,144.45 L243.11,144.69 L243.29,144.93 L243.47,145.17 L243.65,145.41 L243.82,145.64 L244.00,145.88 L244.18,146.12 L244.35,146.35 L244.53,146.58 L244.71,146.82 L244.88,147.05 L245.06,147.28 L245.24,147.51 L245.41,147.74 L245.59,147.96 L245.77,148.19 L245.94,148.41 L246.12,148.64 L246.30,148.86 L246.48,149.08 L246.65,149.31 L246.83,149.53 L247.01,149.75 L247.18,149.96 L247.36,150.18 L247.54,150.40 L247.71,150.62 L247.89,150.83 L248.07,151.04 L248.24,151.26 L248.42,151.47 L248.60,151.68 L248.77,151.89 L248.95,152.10 L249.13,152.31 L249.31,152.52 L249.48,152.72 L249.66,152.93 L249.84,153.14 L250.01,153.34 L250.19,153.54 L250.37,153.75 L250.54,153.95 L250.72,154.15 L250.90,154.35 L251.07,154.55 L251.25,154.75 L251.43,154.94 L251.60,155.14 L251.78,155.34 L251.96,155.53 L252.13,155.73 L252.31,155.92 L252.49,156.11 L252.67,156.30 L252.84,156.50 L253.02,156.69 L253.20,156.88 L253.37,157.06 L253.55,157.25 L253.73,157.44 L253.90,157.63 L254.08,157.81 L254.26,158.00 L254.43,158.18 L254.61,158.36 L254.79,158.55 L254.96,158.73 L255.14,158.91 L255.32,159.09 L255.50,159.27 L255.67,159.45 L255.85,159.63 L256.03,159.80 L256.20,159.98 L256.38,160.16 L256.56,160.33 L256.73,160.51 L256.91,160.68 L257.09,160.85 L257.26,161.03 L257.44,161.20 L257.62,161.37 L257.79,161.54 L257.97,161.71 L258.15,161.88 L258.32,162.05 L258.50,162.22 L258.68,162.38 L258.86,162.55 L259.03,162.71 L259.21,162.88 L259.39,163.04 L259.56,163.21 L259.74,163.37 L259.92,163.53 L260.09,163.70 L260.27,163.86 L260.45,164.02 L260.62,164.18 L260.80,164.34 L260.98,164.49 L261.15,164.65 L261.33,164.81 L261.51,164.97 L261.69,165.12 L261.86,165.28 L262.04,165.43 L262.22,165.59 L262.39,165.74 L262.57,165.89 L262.75,166.05 L262.92,166.20 L263.10,166.35 L263.28,166.50 L263.45,166.65 L263.63,166.80 L263.81,166.95 L263.98,167.10 L264.16,167.25 L264.34,167.39 L264.51,167.54 L264.69,167.69 L264.87,167.83 L265.05,167.98 L265.22,168.12 L265.40,168.27 L265.58,168.41 L265.75,168.55 L265.93,168.69 L266.11,168.84 L266.28,168.98 L266.46,169.12 L266.64,169.26 L266.81,169.40 L266.99,169.54 L267.17,169.67 L267.34,169.81 L267.52,169.95 L267.70,170.09 L267.88,170.22 L268.05,170.36 L268.23,170.49 L268.41,170.63 L268.58,170.76 L268.76,170.90 L268.94,171.03 L269.11,171.16 L269.29,171.29 L269.47,171.43 L269.64,171.56 L269.82,171.69 L270.00,171.82 L270.17,171.95 L270.35,172.08 L270.53,172.21 L270.71,172.34 L270.88,172.46 L271.06,172.59 L271.24,172.72 L271.41,172.84 L271.59,172.97 L271.77,173.10 L271.94,173.22 L272.12,173.35 L272.30,173.47 L272.47,173.59 L272.65,173.72 L272.83,173.84 L273.00,173.96 L273.18,174.08 L273.36,174.20 L273.53,174.33 L273.71,174.45 L273.89,174.57 L274.07,174.69 L274.24,174.80 L274.42,174.92 L274.60,175.04 L274.77,175.16 L274.95,175.28 L275.13,175.39 L275.30,175.51 L275.48,175.63 L275.66,175.74 L275.83,175.86 L276.01,175.97 L276.19,176.09 L276.36,176.20 L276.54,176.31 L276.72,176.43 L276.90,176.54 L277.07,176.65 L277.25,176.76 L277.43,176.88 L277.60,176.99 L277.78,177.10 L277.96,177.21 L278.13,177.32 L278.31,177.43 L278.49,177.54 L278.66,177.65 L278.84,177.75 L279.02,177.86 L279.19,177.97 L279.37,178.08 L279.55,178.18 L279.72,178.29 L279.90,178.40 L280.08,178.50 L280.26,178.61 L280.43,178.71 L280.61,178.82 L280.79,178.92 L280.96,179.03 L281.14,179.13 L281.32,179.23 L281.49,179.34 L281.67,179.44 L281.85,179.54 L282.02,179.64 L282.20,179.74 L282.38,179.84 L282.55,179.94 L282.73,180.04 L282.91,180.14 L283.09,180.24 L283.26,180.34 L283.88,180.68 L285.36,181.49 L286.85,182.28 L288.34,183.05 L289.82,183.79 L291.31,184.51 L292.79,185.21 L294.28,185.89 L295.77,186.56 L297.25,187.20 L298.74,187.83 L300.23,188.44 L301.71,189.03 L303.20,189.61 L304.69,190.17 L306.17,190.72 L307.66,191.25 L309.15,191.77 L310.63,192.28 L312.12,192.77 L313.61,193.25 L315.09,193.72 L316.58,194.18 L318.07,194.62 L319.55,195.06 L321.04,195.48 L322.53,195.89 L324.01,196.30 L325.50,196.69 L326.99,197.07 L328.47,197.45 L329.96,197.81 L331.45,198.17 L332.93,198.52 L334.42,198.86 L335.91,199.19 L337.39,199.52 L338.88,199.83 L340.37,200.14 L341.85,200.45 L343.34,200.74 L344.83,201.03 L346.31,201.31 L347.80,201.59 L349.28,201.86 L350.77,202.12 L352.26,202.38 L353.74,202.64 L355.23,202.88 L356.72,203.13 L358.20,203.36 L359.69,203.60 L361.18,203.82 L362.66,204.04 L364.15,204.26 L365.64,204.48 L367.12,204.68 L368.61,204.89 L370.10,205.09 L371.58,205.28 L373.07,205.48 L374.56,205.66 L376.04,205.85 L377.53,206.03 L379.02,206.21 L380.50,206.38 L381.99,206.55 L383.48,206.72 L384.96,206.88 L386.45,207.04 L387.94,207.20 L389.42,207.35 L390.91,207.50 L392.40,207.65 L393.88,207.80 L395.37,207.94 L396.86,208.08 L398.34,208.22 L399.83,208.35 L401.32,208.49 L402.80,208.62 L404.29,208.74 L405.77,208.87 L407.26,208.99 L408.75,209.11 L410.23,209.23 L411.72,209.35 L413.21,209.46 L414.69,209.57 L416.18,209.68 L417.67,209.79 L419.15,209.90 L420.64,210.00 L422.13,210.11 L423.61,210.21 L425.10,210.31 L426.59,210.40 L428.07,210.50 L429.56,210.60 L431.05,210.69 L432.53,210.78 L434.02,210.87 L435.51,210.96 L436.99,211.04 L438.48,211.13 L439.97,211.21 L441.45,211.29 L442.94,211.38 L444.43,211.46 L445.91,211.53 L447.40,211.61 L448.89,211.69 L450.37,211.76 L451.86,211.83 L453.35,211.91 L454.83,211.98 L456.32,212.05 L457.81,212.12 L459.29,212.18 L460.78,212.25 L462.26,212.32 L463.75,212.38 L465.24,212.45 L466.72,212.51 L468.21,212.57 L469.70,212.63 L471.18,212.69 L472.67,212.75 L474.16,212.81 L475.64,212.87 L477.13,212.92 L478.62,212.98 L480.10,213.03 L481.59,213.09 L483.08,213.14 L484.56,213.19 L486.05,213.24 L487.54,213.29 L489.02,213.34 L490.51,213.39 L492.00,213.44 L493.48,213.49 L494.97,213.54 L496.46,213.58 L497.94,213.63 L499.43,213.67 L500.92,213.72 L502.40,213.76 L503.89,213.81 L505.38,213.85 L506.86,213.89 L508.35,213.93 L509.84,213.97 L511.32,214.01 L512.81,214.05 L514.30,214.09 L515.78,214.13 L517.27,214.17 L518.75,214.21 L520.24,214.25 L521.73,214.28 L523.21,214.32 L524.70,214.35 L526.19,214.39 L527.67,214.42 L529.16,214.46 L530.65,214.49 L532.13,214.53 L533.62,214.56 L535.11,214.59 L536.59,214.62 L538.08,214.65 L539.57,214.69 L541.05,214.72 L542.54,214.75 L544.03,214.78 L545.51,214.81 L547.00,214.84 L548.49,214.87 L549.97,214.89 L551.46,214.92 L552.95,214.95 L554.43,214.98 L555.92,215.01 L557.41,215.03 L558.89,215.06 L560.38,215.08 L561.87,215.11 L563.35,215.14 L564.84,215.16 L566.33,215.19 L567.81,215.21 L569.30,215.24 L570.79,215.26 L572.27,215.28 L573.76,215.31 L575.24,215.33 L576.73,215.35 L578.22,215.38 L579.70,215.40 L580.20,215.40" stroke="#000" stroke-width="2.15"/>
</g>
<line x1="403.8" y1="45.9" x2="449.4" y2="45.9" stroke="#ff0000" stroke-width="2.5"/>
<line x1="405.9" y1="76.2" x2="448" y2="76.2" stroke="#800080" stroke-width="6.6" stroke-dasharray="1.3 4.75 5.2 4.23"/>
<line x1="403.6" y1="106.2" x2="449.4" y2="106.2" stroke="#0000ff" stroke-width="2.5" stroke-dasharray="5.1 4.5"/>
<line x1="403.8" y1="136.3" x2="449.7" y2="136.3" stroke="#000" stroke-width="2.2"/>
<g font-family="'Liberation Serif', serif" font-size="16.8" fill="#000" style="text-rendering:geometricPrecision">
<text transform="translate(71.60,12.50) scale(1.01,1)" text-anchor="end">0.010</text>
<text transform="translate(71.60,55.00) scale(1.01,1)" text-anchor="end">0.008</text>
<text transform="translate(71.60,97.50) scale(1.01,1)" text-anchor="end">0.006</text>
<text transform="translate(71.60,140.00) scale(1.01,1)" text-anchor="end">0.004</text>
<text transform="translate(71.60,182.50) scale(1.01,1)" text-anchor="end">0.002</text>
<text transform="translate(71.60,225.00) scale(1.01,1)" text-anchor="end">0.000</text>
<text transform="translate(71.60,267.50) scale(1.01,1)" text-anchor="end">−0.002</text>
<text transform="translate(71.60,310.00) scale(1.01,1)" text-anchor="end">−0.004</text>
<text transform="translate(85.50,344.20) scale(1.01,1)" text-anchor="middle">0</text>
<text transform="translate(151.46,344.20) scale(1.01,1)" text-anchor="middle">20</text>
<text transform="translate(217.42,344.20) scale(1.01,1)" text-anchor="middle">40</text>
<text transform="translate(283.38,344.20) scale(1.01,1)" text-anchor="middle">60</text>
<text transform="translate(349.34,344.20) scale(1.01,1)" text-anchor="middle">80</text>
<text transform="translate(415.30,344.20) scale(1.01,1)" text-anchor="middle">100</text>
<text transform="translate(481.26,344.20) scale(1.01,1)" text-anchor="middle">120</text>
<text transform="translate(547.22,344.20) scale(1.01,1)" text-anchor="middle">140</text>
<text transform="translate(333.30,372.90) scale(1.05,1)" text-anchor="middle" font-size="15.8">r</text>
<g transform="translate(12,173.5) rotate(-90)" font-style="italic"><text x="0" y="0" font-size="18.5">F</text><text x="10.6" y="2.8" font-size="12.5">e</text></g>
<text transform="translate(460.00,50.40) scale(1.0,1)" text-anchor="start" font-size="18.7" font-style="italic">a</text>
<path d="M471.3,44.20 h10.6 M471.3,47.30 h10.6" stroke="#000" stroke-width="1.1" fill="none"/>
<text transform="translate(483.30,50.40) scale(1.0,1)" text-anchor="start" font-size="18.7" font-style="italic">2</text>
<text transform="translate(492.10,50.40) scale(1.0,1)" text-anchor="start" font-size="18.7" font-style="italic">,</text>
<text transform="translate(501.80,50.40) scale(1.0,1)" text-anchor="start" font-size="18.7" font-style="italic">c</text>
<path d="M512.3,44.20 h10.6 M512.3,47.30 h10.6" stroke="#000" stroke-width="1.1" fill="none"/>
<text transform="translate(523.60,50.40) scale(1.0,1)" text-anchor="start" font-size="18.7" font-style="italic">0</text>
<text transform="translate(533.40,50.40) scale(1.0,1)" text-anchor="start" font-size="18.7" font-style="italic">.</text>
<text transform="translate(539.00,50.40) scale(1.0,1)" text-anchor="start" font-size="18.7" font-style="italic">0</text>
<text transform="translate(548.20,50.40) scale(1.0,1)" text-anchor="start" font-size="18.7" font-style="italic">8</text>
<text transform="translate(460.00,80.60) scale(1.0,1)" text-anchor="start" font-size="18.7" font-style="italic">a</text>
<path d="M471.3,74.40 h10.6 M471.3,77.50 h10.6" stroke="#000" stroke-width="1.1" fill="none"/>
<text transform="translate(483.30,80.60) scale(1.0,1)" text-anchor="start" font-size="18.7" font-style="italic">2</text>
<text transform="translate(492.10,80.60) scale(1.0,1)" text-anchor="start" font-size="18.7" font-style="italic">,</text>
<text transform="translate(501.80,80.60) scale(1.0,1)" text-anchor="start" font-size="18.7" font-style="italic">c</text>
<path d="M512.3,74.40 h10.6 M512.3,77.50 h10.6" stroke="#000" stroke-width="1.1" fill="none"/>
<text transform="translate(523.60,80.60) scale(1.0,1)" text-anchor="start" font-size="18.7" font-style="italic">0</text>
<text transform="translate(460.00,110.70) scale(1.0,1)" text-anchor="start" font-size="18.7" font-style="italic">a</text>
<path d="M471.3,104.50 h10.6 M471.3,107.60 h10.6" stroke="#000" stroke-width="1.1" fill="none"/>
<text transform="translate(483.30,110.70) scale(1.0,1)" text-anchor="start" font-size="18.7" font-style="italic">0</text>
<text transform="translate(492.10,110.70) scale(1.0,1)" text-anchor="start" font-size="18.7" font-style="italic">,</text>
<text transform="translate(501.80,110.70) scale(1.0,1)" text-anchor="start" font-size="18.7" font-style="italic">c</text>
<path d="M512.3,104.50 h10.6 M512.3,107.60 h10.6" stroke="#000" stroke-width="1.1" fill="none"/>
<text transform="translate(523.60,110.70) scale(1.0,1)" text-anchor="start" font-size="18.7" font-style="italic">0</text>
<text transform="translate(533.40,110.70) scale(1.0,1)" text-anchor="start" font-size="18.7" font-style="italic">.</text>
<text transform="translate(539.00,110.70) scale(1.0,1)" text-anchor="start" font-size="18.7" font-style="italic">0</text>
<text transform="translate(548.20,110.70) scale(1.0,1)" text-anchor="start" font-size="18.7" font-style="italic">8</text>
<text transform="translate(460.00,140.80) scale(1.0,1)" text-anchor="start" font-size="18.7" font-style="italic">a</text>
<path d="M471.3,134.60 h10.6 M471.3,137.70 h10.6" stroke="#000" stroke-width="1.1" fill="none"/>
<text transform="translate(483.30,140.80) scale(1.0,1)" text-anchor="start" font-size="18.7" font-style="italic">0</text>
<text transform="translate(492.10,140.80) scale(1.0,1)" text-anchor="start" font-size="18.7" font-style="italic">,</text>
<text transform="translate(501.80,140.80) scale(1.0,1)" text-anchor="start" font-size="18.7" font-style="italic">c</text>
<path d="M512.3,134.60 h10.6 M512.3,137.70 h10.6" stroke="#000" stroke-width="1.1" fill="none"/>
<text transform="translate(523.60,140.80) scale(1.0,1)" text-anchor="start" font-size="18.7" font-style="italic">0</text>
</g>
</svg>
</body></html>
